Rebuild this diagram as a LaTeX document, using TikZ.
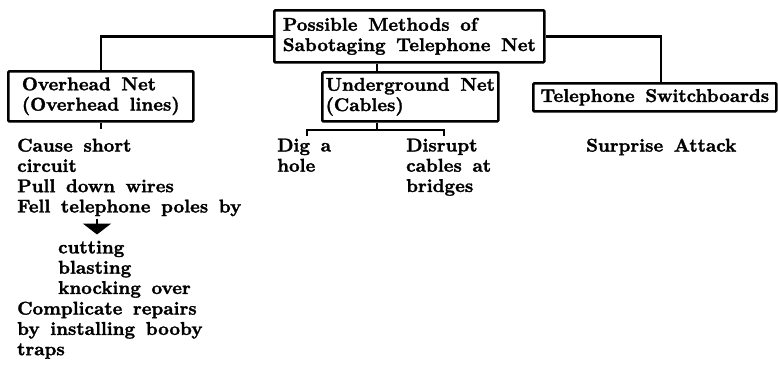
\documentclass[tikz,border=0pt]{standalone}
\usepackage{fontspec}
\setmainfont{lmroman10-regular}[Extension=.otf, BoldFont=lmroman10-bold,
   BoldFeatures={FakeBold=1.6}, WordSpace=1.5]
\usetikzlibrary{arrows.meta}

\begin{document}
\begin{tikzpicture}[x=1pt, y=-1pt,
    every node/.style={font=\bfseries\fontsize{18.5}{20.3}\selectfont},
    box/.style={draw, line width=2.6pt, rounded corners=1pt, align=left,
       inner sep=0pt, anchor=north west},
    item/.style={align=left, inner sep=0pt, anchor=north west},
    link/.style={line width=2.4pt}]
   \useasboundingbox (0,0) rectangle (778,364);
   % boxes
   \node[box, minimum width=270, minimum height=52] (top) at (273,9)
      {Possible Methods of\\Sabotaging Telephone Net};
   \node[box, minimum width=185, minimum height=50] (over) at (7,70)
      {Overhead Net\\(Overhead lines)};
   \node[box, minimum width=176, minimum height=49] (under) at (321,71)
      {Underground Net\\(Cables)};
   \node[box, minimum width=243, minimum height=28] (switch) at (532,82)
      {Telephone Switchboards};
   % lists
   \node[item] (ways) at (17,138.5)
      {Cause short\\circuit\\Pull down wires\\Fell telephone poles by};
   \node[item] (cuts) at (58,240.5) {cutting\\blasting\\knocking over};
   \node[item] (repairs) at (17,301.5)
      {Complicate repairs\\by installing booby\\traps};
   \node[item] (dig) at (277,138.5) {Dig a\\hole};
   \node[item] (disrupt) at (406,138.5) {Disrupt\\cables at\\bridges};
   \node[item] (attack) at (586,138.5) {Surprise Attack};
   % connectors
   \coordinate (tu) at (377,0);
   \coordinate (ts) at (661,0);
   \coordinate (ar) at (97,0);
   \coordinate (fork) at (377,130);
   \coordinate (dt) at (307,136);
   \coordinate (rt) at (444,136);
   \draw[link] (top.west) -| (over.north);
   \draw[link] (top.east) -| (ts |- switch.north);
   \draw[link] (tu |- top.south) -- (tu |- under.north);
   \draw[link] (tu |- under.south) -- (fork);
   \draw[link] (dt) |- (fork) -| (rt);
   \draw[link] (over.south) -- ++(0,6);
   \draw[link, -{Triangle[width=28pt,length=11pt]}, shorten <=3pt, shorten >=6pt]
      (ar |- ways.south) -- (ar |- cuts.north);
\end{tikzpicture}
\end{document}
